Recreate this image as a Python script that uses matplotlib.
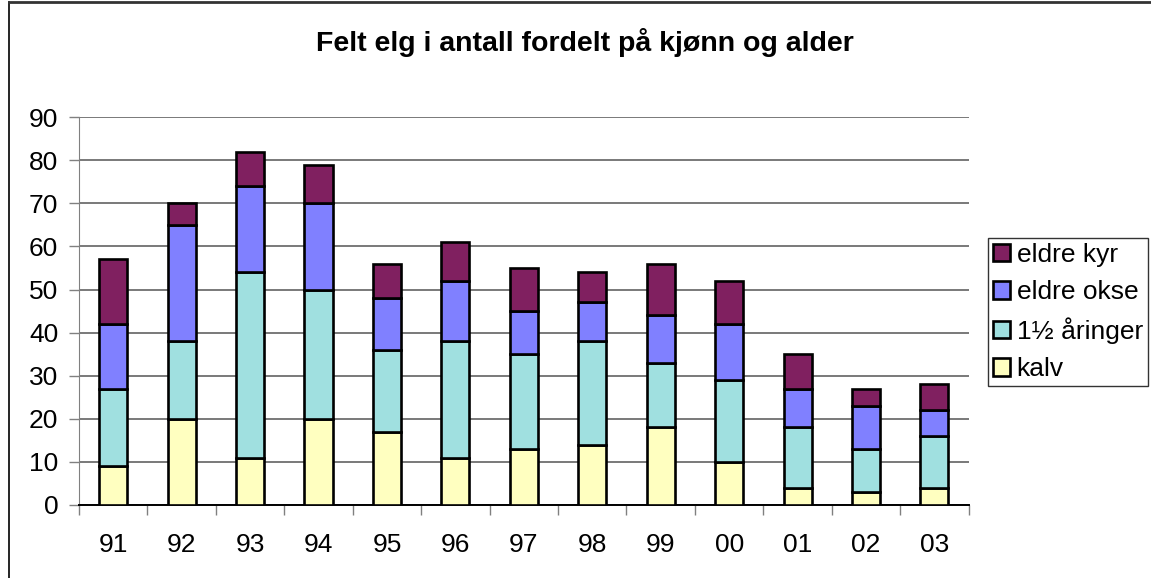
import numpy as np
import matplotlib
matplotlib.use('Agg')
import matplotlib.pyplot as plt
from matplotlib.lines import Line2D
from matplotlib.patches import Patch

plt.rcParams['font.family'] = ['Liberation Sans', 'DejaVu Sans']

years = ['91', '92', '93', '94', '95', '96', '97', '98', '99', '00', '01', '02', '03']
kalv = [9, 20, 11, 20, 17, 11, 13, 14, 18, 10, 4, 3, 4]
aaringer = [18, 18, 43, 30, 19, 27, 22, 24, 15, 19, 14, 10, 12]
eldre_okse = [15, 27, 20, 20, 12, 14, 10, 9, 11, 13, 9, 10, 6]
eldre_kyr = [15, 5, 8, 9, 8, 9, 10, 7, 12, 10, 8, 4, 6]

series = [
    ('kalv', kalv, '#FFFFC0'),
    ('1½ åringer', aaringer, '#A0E0E0'),
    ('eldre okse', eldre_okse, '#8080FF'),
    ('eldre kyr', eldre_kyr, '#802060'),
]

fig = plt.figure(figsize=(11.51, 5.78), dpi=100)
ax = fig.add_axes([0.0686, 0.1263, 0.773, 0.671])

x = np.arange(len(years))
bottom = np.zeros(len(years))
for name, vals, col in series:
    ax.bar(x, vals, width=0.41, bottom=bottom, color=col, edgecolor='black',
           linewidth=1.9, zorder=3)
    bottom += np.array(vals)

ax.set_xlim(-0.5, len(years) - 0.5)
ax.set_ylim(0, 90)
ax.set_yticks(range(0, 91, 10))
ax.yaxis.grid(True, color='#555555', linewidth=1.1, zorder=0)
ax.set_axisbelow(True)

ax.set_xticks(x)
ax.set_xticklabels(years, fontsize=19)
ax.tick_params(axis='x', length=0, pad=20)
ax.set_xticks(np.arange(-0.5, len(years)), minor=True)
ax.tick_params(axis='x', which='minor', length=7, width=1, color='#808080', direction='out')
ax.tick_params(axis='y', labelsize=19, length=7, width=1, color='#808080', pad=8)

for s in ['top', 'right']:
    ax.spines[s].set_visible(False)
ax.spines['left'].set_color('#808080')
ax.spines['bottom'].set_color('black')
ax.spines['bottom'].set_linewidth(1.4)

fig.text(0.508, 0.927, 'Felt elg i antall fordelt på kjønn og alder',
         ha='center', va='center', fontsize=20.5, fontweight='bold')

handles = [Patch(facecolor=c, edgecolor='black', linewidth=1.9, label=n)
           for n, v, c in series[::-1]]
leg = fig.legend(handles=handles, loc='upper left', bbox_to_anchor=(0.858, 0.589),
                 fontsize=19, frameon=True, fancybox=False, edgecolor='black',
                 handlelength=0.65, handleheight=0.65, handletextpad=0.25,
                 labelspacing=0.5, borderpad=0.2, borderaxespad=0)
leg.get_frame().set_linewidth(1.0)

# figure border (left and top)
fig.add_artist(Line2D([0.0075, 0.0075], [0, 0.997], transform=fig.transFigure,
                      color='black', linewidth=1.2))
fig.add_artist(Line2D([0.0075, 1], [0.997, 0.997], transform=fig.transFigure,
                      color='#333333', linewidth=2))

fig.savefig('out.png', dpi=100)
